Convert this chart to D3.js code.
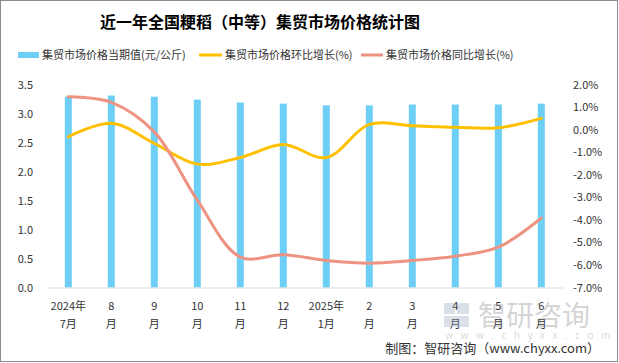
<!DOCTYPE html>
<html>
<head>
<meta charset="utf-8">
<script src="https://cdn.jsdelivr.net/npm/d3@7"></script>
<style>
  body { margin: 0; background: #fff; }
  svg { display: block; font-family: "Microsoft YaHei", "Noto Sans CJK SC", sans-serif; }
</style>
</head>
<body>
<svg id="chart" width="619" height="363"></svg>
<script>
// categories, two lines per label
const monthsTop = ['2024年', '8', '9', '10', '11', '12', '2025年', '2', '3', '4', '5', '6']
const monthsBottom = ['7月', '月', '月', '月', '月', '月', '1月', '月', '月', '月', '月', '月']

// series
const priceValues = [3.29, 3.31, 3.29, 3.24, 3.19, 3.17, 3.14, 3.14, 3.155, 3.155, 3.155, 3.17]
const momValues = [-0.32, 0.28, -0.61, -1.53, -1.24, -0.66, -1.24, 0.23, 0.17, 0.10, 0.08, 0.50]
const yoyValues = [1.46, 1.21, -0.10, -3.13, -5.65, -5.55, -5.80, -5.92, -5.80, -5.61, -5.21, -3.92]

// tick labels
const leftTicks = [0, 0.5, 1, 1.5, 2, 2.5, 3, 3.5]
const rightTicks = [2, 1, 0, -1, -2, -3, -4, -5, -6, -7]

const seriesNames = ['集贸市场价格当期值(元/公斤)', '集贸市场价格环比增长(%)', '集贸市场价格同比增长(%)']
const colors = { bar: '#6dcff6', mom: '#ffc000', yoy: '#ee9382' }

const svg = d3.select('#chart')
const plot = { left: 46.8, right: 562.8, top: 84.5, bottom: 287.5 }

svg.append('rect')
  .attr('x', 0.5).attr('y', 0.5)
  .attr('width', 617).attr('height', 361)
  .attr('fill', '#fff')
  .attr('stroke', '#8c8c8c')

// title
svg.append('text')
  .attr('x', 260).attr('y', 28)
  .attr('text-anchor', 'middle')
  .attr('font-size', 16).attr('font-weight', 'bold')
  .attr('fill', '#000')
  .text('近一年全国粳稻（中等）集贸市场价格统计图')

// legend
const legendItems = [
  { x: 18, w: 21, h: 6, color: colors.bar, textX: 42 },
  { x: 199, w: 23, h: 3, color: colors.mom, textX: 225 },
  { x: 361, w: 22, h: 3, color: colors.yoy, textX: 386 }
]
legendItems.forEach((d, i) => {
  svg.append('rect')
    .attr('x', d.x).attr('y', 55 - d.h / 2)
    .attr('width', d.w).attr('height', d.h)
    .attr('fill', d.color)
  svg.append('text')
    .attr('x', d.textX).attr('y', 59)
    .attr('font-size', 11).attr('fill', '#333')
    .text(seriesNames[i])
})

const x = d3.scaleBand()
  .domain(d3.range(monthsTop.length))
  .range([plot.left, plot.right])

const yLeft = d3.scaleLinear().domain([0, 3.5]).range([plot.bottom, plot.top])
const yRight = d3.scaleLinear().domain([-7, 2]).range([plot.bottom, plot.top])

// bars
const barWidth = 7
svg.append('g')
  .selectAll('rect')
  .data(priceValues)
  .join('rect')
  .attr('x', (d, i) => x(i) + x.bandwidth() / 2 - barWidth / 2)
  .attr('y', d => yLeft(d))
  .attr('width', barWidth)
  .attr('height', d => yLeft(0) - yLeft(d))
  .attr('fill', colors.bar)

// x axis line
svg.append('line')
  .attr('x1', plot.left).attr('x2', plot.right)
  .attr('y1', plot.bottom + 0.5).attr('y2', plot.bottom + 0.5)
  .attr('stroke', '#d9d9d9')

// lines
const lineFor = values => d3.line()
  .x((d, i) => x(i) + x.bandwidth() / 2)
  .y(d => yRight(d))
  .curve(d3.curveCatmullRom.alpha(0.5))(values)

svg.append('path')
  .attr('d', lineFor(momValues))
  .attr('fill', 'none')
  .attr('stroke', colors.mom)
  .attr('stroke-width', 3)
  .attr('stroke-linecap', 'round')

svg.append('path')
  .attr('d', lineFor(yoyValues))
  .attr('fill', 'none')
  .attr('stroke', colors.yoy)
  .attr('stroke-width', 3)
  .attr('stroke-linecap', 'round')

// left axis labels
svg.append('g')
  .selectAll('text')
  .data(leftTicks)
  .join('text')
  .attr('x', 33).attr('y', d => yLeft(d) + 4)
  .attr('text-anchor', 'end')
  .attr('font-size', 11).attr('fill', '#333')
  .text(d => d.toFixed(1))

// right axis labels
svg.append('g')
  .selectAll('text')
  .data(rightTicks)
  .join('text')
  .attr('x', 573).attr('y', d => yRight(d) + 4)
  .attr('font-size', 11).attr('fill', '#333')
  .text(d => d.toFixed(1) + '%')

// x labels
const xLabels = svg.append('g')
monthsTop.forEach((m, i) => {
  const cx = x(i) + x.bandwidth() / 2
  xLabels.append('text')
    .attr('x', cx).attr('y', 310)
    .attr('text-anchor', 'middle')
    .attr('font-size', 11).attr('fill', '#333')
    .text(m)
  xLabels.append('text')
    .attr('x', cx).attr('y', 328)
    .attr('text-anchor', 'middle')
    .attr('font-size', 11).attr('fill', '#333')
    .text(monthsBottom[i])
})

// watermark
const wm = svg.append('g').attr('opacity', 0.35)
wm.append('rect').attr('x', 444).attr('y', 303).attr('width', 11).attr('height', 11).attr('fill', '#9aa6c0')
wm.append('rect').attr('x', 457).attr('y', 303).attr('width', 12).attr('height', 11).attr('fill', '#9aa6c0')
wm.append('rect').attr('x', 444).attr('y', 316).attr('width', 25).attr('height', 11).attr('fill', '#9aa6c0')
wm.append('text')
  .attr('x', 478).attr('y', 326)
  .attr('font-size', 28).attr('fill', '#888')
  .text('智研咨询')
wm.append('text')
  .attr('x', 445).attr('y', 339)
  .attr('font-size', 10).attr('fill', '#999')
  .attr('letter-spacing', 7.5)
  .text('www.chyxx.com')

// credit
svg.append('text')
  .attr('x', 600).attr('y', 353)
  .attr('text-anchor', 'end')
  .attr('font-size', 13).attr('fill', '#333')
  .text('制图：智研咨询（www.chyxx.com）')
</script>
</body>
</html>
